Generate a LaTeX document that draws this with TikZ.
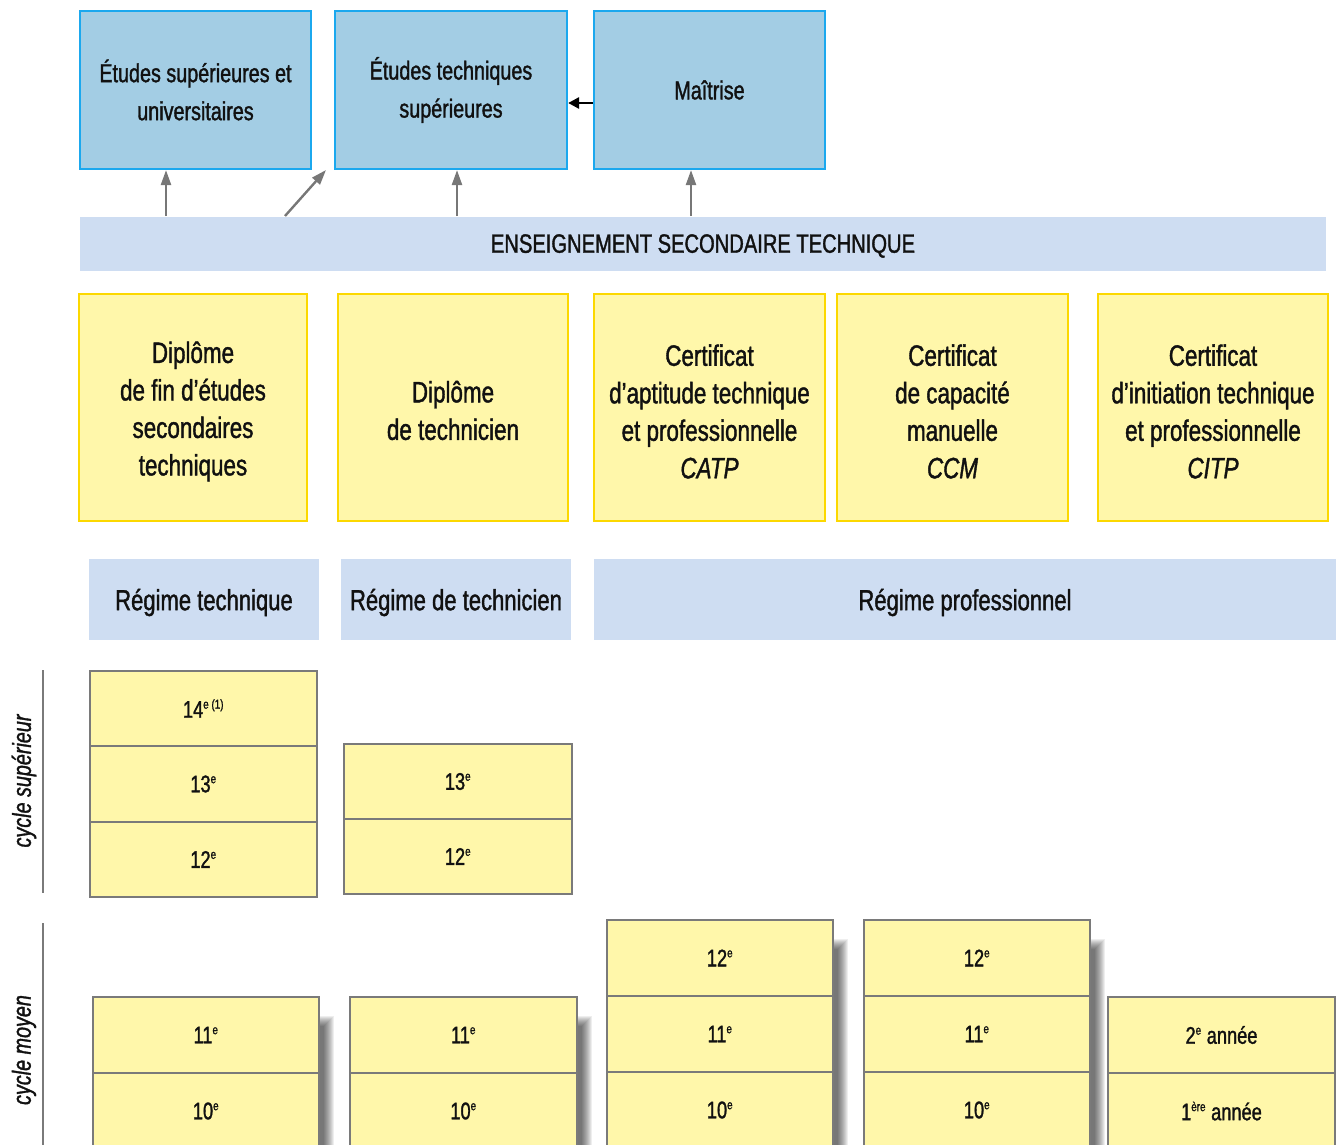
\documentclass[tikz,border=0pt]{standalone}
\usepackage{fontspec}
\setmainfont{Liberation Sans}[FakeStretch=0.76, FakeBold=1.3]
\usetikzlibrary{arrows.meta}
\definecolor{bfill}{HTML}{A3CDE4}
\definecolor{bline}{HTML}{1BA8EE}
\definecolor{band}{HTML}{CEDDF2}
\definecolor{yfill}{HTML}{FFF7AA}
\definecolor{yline}{HTML}{FCD800}
\definecolor{gline}{HTML}{7A7A7A}
\definecolor{garrow}{HTML}{777777}
\definecolor{txt}{HTML}{111111}
\tikzset{
  bluebox/.style={draw=bline, fill=bfill, line width=2.2pt, inner sep=0pt, align=center, text=txt, font=\fontsize{26}{38}\selectfont},
  dipbox/.style={draw=yline, fill=yfill, line width=2.2pt, inner sep=0pt},
  diptext/.style={align=center, inner sep=0pt, text=txt, font=\fontsize{29.5}{37.5}\selectfont},
  bandbox/.style={fill=band, inner sep=0pt},
  bandtext/.style={inner sep=0pt, text=txt, font=\fontsize{29}{32}\selectfont},
  toptext/.style={inner sep=0pt, text=txt, font=\fontsize{26.5}{30}\selectfont},
  grade/.style={draw=gline, fill=yfill, line width=1.8pt, inner sep=0pt, text=txt, font=\fontsize{24}{28}\selectfont},
  garr/.style={draw=garrow, line width=2.4pt, -{Triangle[length=15pt,width=10pt]}},
  barr/.style={draw=black, line width=2.6pt, -{Triangle[length=11pt,width=11pt]}},
  cyc/.style={rotate=90, text=txt, font=\fontsize{26}{30}\selectfont\itshape},
  cycline/.style={draw=gline, line width=2.2pt},
}
\newcommand{\sups}[1]{\textsuperscript{\fontsize{13}{13}\selectfont #1}}
\newcommand{\shadowat}[2]{%
  \foreach \k in {0,...,10}{\fill[black, opacity=0.065] (#1-30,#2+16-\k) rectangle (#1+5+\k,1160);}}
\begin{document}
\begin{tikzpicture}[x=1pt,y=-1pt]
\useasboundingbox (0,0) rectangle (1338,1145);
\clip (0,0) rectangle (1338,1145);
% top boxes
\node[bluebox, minimum width=231, minimum height=158] (esu) at (195.5,90) {Études supérieures et\\universitaires};
\node[bluebox, minimum width=232, minimum height=158] (ets) at (451,90) {Études techniques\\supérieures};
\node[bluebox, minimum width=231, minimum height=158] (mai) at (709.5,90) {Maîtrise};
\draw[barr] (mai.west |- 0,103) -- (ets.east |- 0,103);
% band
\node[bandbox, minimum width=1246, minimum height=54] (est) at (703,244) {};
\node[toptext] (estt) at ([yshift=-2pt]est.center) {ENSEIGNEMENT SECONDAIRE TECHNIQUE};
\coordinate (a1) at (166,216);
\coordinate (a2s) at (285,216);
\coordinate (a2e) at (326,170);
\coordinate (a3) at (457,216);
\coordinate (a4) at (691,216);
\draw[garr] (a1) -- (a1 |- esu.south);
\draw[garr] (a2s) -- (a2e);
\draw[garr] (a3) -- (a3 |- ets.south);
\draw[garr] (a4) -- (a4 |- mai.south);
% diplomas
\node[dipbox, minimum width=228, minimum height=227] (d1) at (193,407.5) {};
\node[dipbox, minimum width=230, minimum height=227] (d2) at (453,407.5) {};
\node[dipbox, minimum width=231, minimum height=227] (d3) at (709.5,407.5) {};
\node[dipbox, minimum width=231, minimum height=227] (d4) at (952.5,407.5) {};
\node[dipbox, minimum width=230, minimum height=227] (d5) at (1213,407.5) {};
\node[diptext] (d1t) at ([yshift=-4pt]d1.center) {Diplôme\\de fin d’études\\secondaires\\techniques};
\node[diptext] (d2t) at ([yshift=-3pt]d2.center) {Diplôme\\de technicien};
\node[diptext] (d3t) at ([yshift=-4pt]d3.center) {Certificat\\d’aptitude technique\\et professionnelle\\\textit{CATP}};
\node[diptext] (d4t) at ([yshift=-4pt]d4.center) {Certificat\\de capacité\\manuelle\\\textit{CCM}};
\node[diptext] (d5t) at ([yshift=-4pt]d5.center) {Certificat\\d’initiation technique\\et professionnelle\\\textit{CITP}};
% regimes
\node[bandbox, minimum width=230, minimum height=81] (r1) at (204,599.5) {};
\node[bandbox, minimum width=230, minimum height=81] (r2) at (456,599.5) {};
\node[bandbox, minimum width=742, minimum height=81] (r3) at (965,599.5) {};
\node[bandtext] (r1t) at ([yshift=-3pt]r1.center) {Régime technique};
\node[bandtext] (r2t) at ([yshift=-3pt]r2.center) {Régime de technicien};
\node[bandtext] (r3t) at ([yshift=-3pt]r3.center) {Régime professionnel};
% cycle labels
\coordinate (cs1) at (43,670);
\coordinate (cs2) at (43,893);
\draw[cycline] (cs1) -- (cs2);
\node[cyc] (cs) at (24,781) {cycle supérieur};
\coordinate (cm1) at (43,923);
\coordinate (cm2) at (43,1145);
\draw[cycline] (cm1) -- (cm2);
\node[cyc] (cm) at (24,1050) {cycle moyen};
% upper grades
\node[grade, minimum width=227, minimum height=75.5] (t14) at (203.5,708.5) {14\sups{e (1)}};
\node[grade, minimum width=227, minimum height=75.5] (t13) at (203.5,784) {13\sups{e}};
\node[grade, minimum width=227, minimum height=75.5] (t12) at (203.5,859.5) {12\sups{e}};
\node[grade, minimum width=228, minimum height=75] (n13) at (458,781.5) {13\sups{e}};
\node[grade, minimum width=228, minimum height=75] (n12) at (458,856.5) {12\sups{e}};
% shadows for lower grades
\shadowat{319}{1010}
\shadowat{577}{1010}
\shadowat{833}{933}
\shadowat{1090}{933}
% lower grades
\node[grade, minimum width=226, minimum height=76] (m1a) at (206,1035) {11\sups{e}};
\node[grade, minimum width=226, minimum height=76] (m1b) at (206,1111) {10\sups{e}};
\node[grade, minimum width=227, minimum height=76] (m2a) at (463.5,1035) {11\sups{e}};
\node[grade, minimum width=227, minimum height=76] (m2b) at (463.5,1111) {10\sups{e}};
\node[grade, minimum width=226, minimum height=76] (m3c) at (720,958) {12\sups{e}};
\node[grade, minimum width=226, minimum height=76] (m3a) at (720,1034) {11\sups{e}};
\node[grade, minimum width=226, minimum height=76] (m3b) at (720,1110) {10\sups{e}};
\node[grade, minimum width=226, minimum height=76] (m4c) at (977,958) {12\sups{e}};
\node[grade, minimum width=226, minimum height=76] (m4a) at (977,1034) {11\sups{e}};
\node[grade, minimum width=226, minimum height=76] (m4b) at (977,1110) {10\sups{e}};
\node[grade, minimum width=227, minimum height=76] (m5a) at (1221.5,1035) {2\sups{e} année};
\node[grade, minimum width=227, minimum height=76] (m5b) at (1221.5,1111) {1\sups{ère} année};
\end{tikzpicture}
\end{document}
